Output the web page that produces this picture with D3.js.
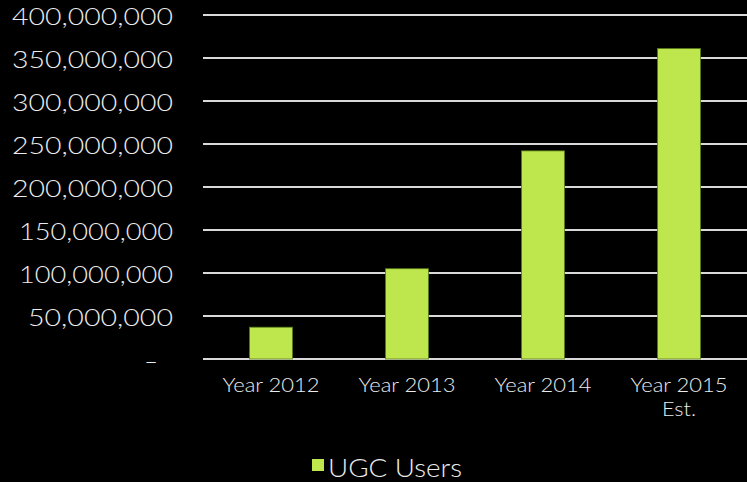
<!DOCTYPE html>
<html>
<head>
<meta charset="utf-8">
<script src="https://cdn.jsdelivr.net/npm/d3@7"></script>
<style>
  html, body { margin: 0; padding: 0; background: #000; }
  svg { display: block; }
  text { font-family: "Lato", "Open Sans", sans-serif; font-weight: 300; fill: #ececec; }
</style>
</head>
<body>
<svg id="chart" width="747" height="482"></svg>
<script>
// UGC users per year
const categories = ["Year 2012", "Year 2013", "Year 2014", "Year 2015 Est."];
const ugcUsers = [37000000, 105000000, 242000000, 361000000];
const yTicks = [0, 50000000, 100000000, 150000000, 200000000, 250000000, 300000000, 350000000, 400000000];
const seriesName = "UGC Users";

const svg = d3.select("#chart");
const W = 747, H = 482;
const margin = { left: 203, right: 0, top: 15, bottom: 123 };

const x = d3.scaleBand()
  .domain(categories)
  .range([margin.left, W - margin.right])
  .paddingInner(0.684)
  .paddingOuter(0.342);

const y = d3.scaleLinear()
  .domain([0, 400000000])
  .range([H - margin.bottom, margin.top]);

const fmt = d => d === 0 ? "–" : d3.format(",")(d);

// gridlines
svg.append("g")
  .selectAll("line")
  .data(yTicks)
  .join("line")
  .attr("x1", margin.left)
  .attr("x2", W - margin.right)
  .attr("y1", d => y(d))
  .attr("y2", d => y(d))
  .attr("stroke", "#d9d9d9")
  .attr("stroke-width", 2);

// y labels, stretched to the wide geometric look of the axis type
svg.append("g")
  .selectAll("text")
  .data(yTicks)
  .join("text")
  .attr("x", d => d === 0 ? 158 : 173)
  .attr("y", d => y(d) + 10)
  .attr("text-anchor", "end")
  .style("font-size", "23.5px")
  .each(function (d) {
    const s = fmt(d);
    if (d !== 0) {
      const w = s.length === 11 ? (s[0] === "1" ? 154 : 161) : 145;
      d3.select(this).attr("textLength", w).attr("lengthAdjust", "spacingAndGlyphs");
    }
  })
  .text(fmt);

// bars
svg.append("g")
  .selectAll("rect")
  .data(categories)
  .join("rect")
  .attr("x", d => x(d))
  .attr("width", x.bandwidth())
  .attr("y", (d, i) => y(ugcUsers[i]))
  .attr("height", (d, i) => y(0) - y(ugcUsers[i]))
  .attr("fill", "#bee64d")
  .attr("stroke", "#5a7a1a")
  .attr("stroke-width", 0.8);

// x labels (wrap "Est." to a second line)
const xl = svg.append("g")
  .selectAll("text")
  .data(categories)
  .join("text")
  .attr("text-anchor", "middle")
  .attr("x", d => x(d) + x.bandwidth() / 2)
  .attr("y", 392)
  .style("font-size", "20px");
xl.each(function (d) {
  const t = d3.select(this);
  const cx = x(d) + x.bandwidth() / 2;
  const m = d.match(/^(Year \d{4})\s*(.*)$/);
  t.append("tspan").attr("x", cx)
    .attr("textLength", 97).attr("lengthAdjust", "spacingAndGlyphs").text(m[1]);
  if (m[2]) t.append("tspan").attr("x", cx).attr("dy", 24)
    .attr("textLength", 34).attr("lengthAdjust", "spacingAndGlyphs").text(m[2]);
});

// legend
const lg = svg.append("g");
lg.append("rect")
  .attr("x", 312).attr("y", 459).attr("width", 12).attr("height", 12)
  .attr("fill", "#bee64d");
lg.append("text")
  .attr("x", 328).attr("y", 477)
  .style("font-size", "26px")
  .attr("textLength", 134).attr("lengthAdjust", "spacingAndGlyphs")
  .text(seriesName);
</script>
</body>
</html>
